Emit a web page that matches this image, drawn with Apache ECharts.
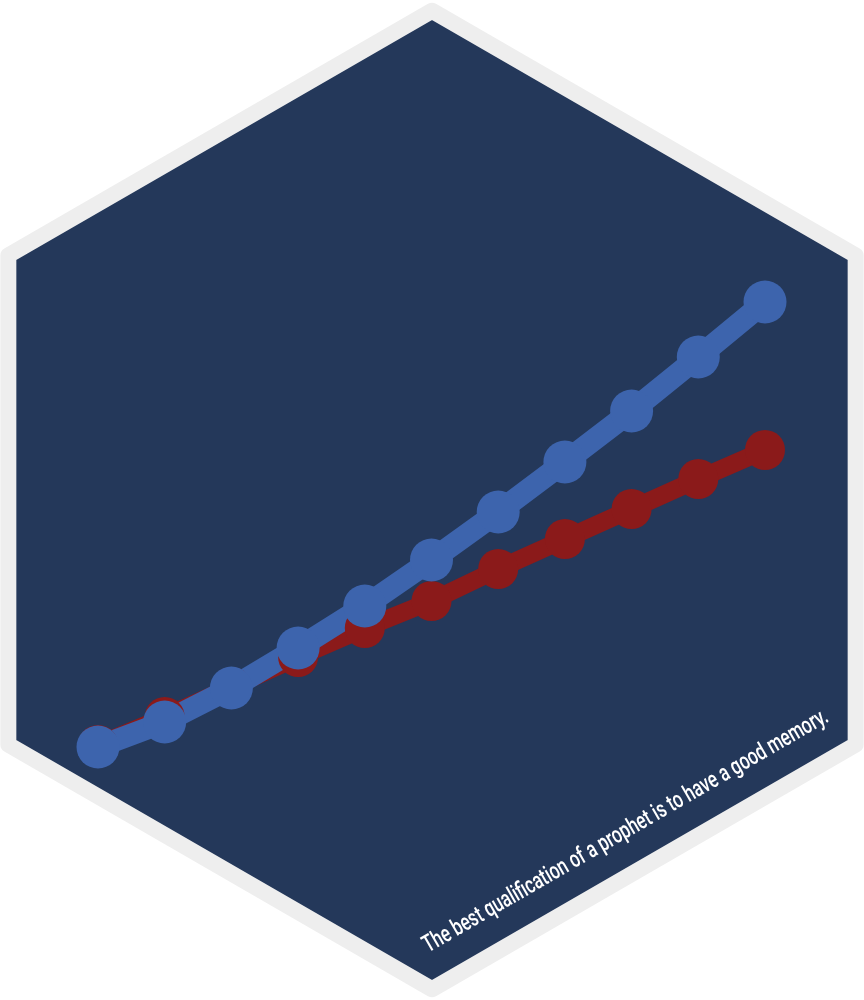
<!DOCTYPE html>
<html>
<head>
<meta charset="utf-8">
<script src="https://cdn.jsdelivr.net/npm/echarts@6/dist/echarts.min.js"></script>
<style>
  html, body { margin: 0; padding: 0; background: #ffffff; }
  #chart { width: 864px; height: 1000px; }
</style>
</head>
<body>
<div id="chart"></div>
<script>
var xValues = [1, 2, 3, 4, 5, 6, 7, 8, 9, 10, 11];
var blueValues = [5.3, 7.8, 11.2, 15.2, 19.4, 24.0, 28.8, 33.8, 38.9, 44.3, 49.8];
var redValues = [5.5, 8.3, 11.3, 14.3, 17.2, 19.9, 23.1, 26.1, 29.1, 32.1, 35.0];
var caption = 'The best qualification of a prophet is to have a good memory.';

// hexagon outline (sticker shape), centre of the page
function hexPoints(cx, cy, r) {
	var pts = [];
	for (var i = 0; i < 6; i++) {
		var a = -Math.PI / 2 + i * Math.PI / 3;
		pts.push([cx + r * Math.cos(a), cy + r * Math.sin(a)]);
	}
	return pts;
}

function pairs(xs, ys) {
	var out = [];
	for (var i = 0; i < xs.length; i++) {
		out.push([xs[i], ys[i]]);
	}
	return out;
}

// the caption is set in a narrow face, so squeeze a normal one to the same run length
var captionFont = '500 24px Roboto, "Liberation Sans", sans-serif';
var ctx = document.createElement('canvas').getContext('2d');
ctx.font = captionFont;
var captionScale = 464 / ctx.measureText(caption).width;

var chart = echarts.init(document.getElementById('chart'));
var option = {
	animation: false,
	backgroundColor: '#ffffff',
	grid: { left: 98, right: 99, top: 200, bottom: 200 },
	xAxis: {
		type: 'value', min: 1, max: 11, show: false,
		splitLine: { show: false }
	},
	yAxis: {
		type: 'value', min: 0, max: 60, show: false,
		splitLine: { show: false }
	},
	graphic: [
		{
			type: 'polygon',
			z: -10,
			shape: { points: hexPoints(432, 500, 489.2) },
			style: { fill: '#24385a', stroke: '#eeeeee', lineWidth: 16, lineJoin: 'round' }
		},
		{
			type: 'text',
			z: 100,
			x: 431,
			y: 958,
			rotation: Math.PI / 6,
			scaleX: captionScale,
			style: {
				text: caption,
				fill: '#ffffff',
				font: captionFont,
				textAlign: 'left',
				textVerticalAlign: 'bottom'
			}
		}
	],
	series: [
		{
			name: 'red',
			type: 'line',
			data: pairs(xValues, redValues),
			symbol: 'circle',
			symbolSize: 40,
			clip: false,
			lineStyle: { color: '#8b1a1a', width: 18 },
			itemStyle: { color: '#8b1a1a' }
		},
		{
			name: 'blue',
			type: 'line',
			data: pairs(xValues, blueValues),
			symbol: 'circle',
			symbolSize: 43,
			clip: false,
			lineStyle: { color: '#3d64ad', width: 22 },
			itemStyle: { color: '#3d64ad' }
		}
	]
};
chart.setOption(option);
window.onresize = chart.resize;
</script>
</body>
</html>
